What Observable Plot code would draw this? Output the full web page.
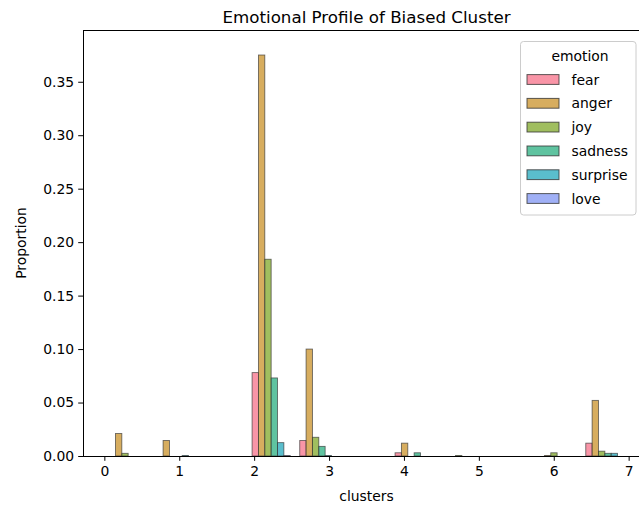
<!DOCTYPE html>
<html><head><meta charset="utf-8">
<script src="https://cdn.jsdelivr.net/npm/d3@7"></script>
<script src="https://cdn.jsdelivr.net/npm/@observablehq/plot@0.6"></script>
<style>
html,body{margin:0;padding:0;background:#fff;overflow:hidden;}
#chart{position:relative;width:639px;height:505px;overflow:hidden;}
#chart svg{max-width:none !important;}
</style></head><body><div id="chart"></div>
<script>
const emotions = ["fear", "anger", "joy", "sadness", "surprise", "love"];
const colors = ["#f77189", "#ca912a", "#80a82a", "#2aaf80", "#23a8bc", "#8096f3"];
const binStarts = [0, 0.636, 1.273, 1.909, 2.545, 3.182, 3.818, 4.455, 5.091, 5.727, 6.364];
const binWidth = 0.636;
const fear     = [0,      0,      0, 0.078,  0.0145, 0, 0.003, 0,      0, 0,      0.012];
const anger    = [0.021,  0.0145, 0, 0.375,  0.100,  0, 0.012, 0,      0, 0.0005, 0.052];
const joy      = [0.0025, 0,      0, 0.184,  0.0175, 0, 0,     0.0005, 0, 0.003,  0.0045];
const sadness  = [0,      0,      0, 0.073,  0.009,  0, 0.003, 0,      0, 0,      0.0025];
const surprise = [0,      0.0005, 0, 0.0125, 0.0005, 0, 0,     0,      0, 0,      0.0025];
const love     = [0,      0,      0, 0.0005, 0,      0, 0,     0,      0, 0,      0];
const xTicks = [0, 1, 2, 3, 4, 5, 6, 7];
const yTicks = [0, 0.05, 0.10, 0.15, 0.20, 0.25, 0.30, 0.35];
const titleText = "Emotional Profile of Biased Cluster";
const xLabel = "clusters";
const yLabel = "Proportion";
const legendTitle = "emotion";

const series = {fear, anger, joy, sadness, surprise, love};
const shrink = 0.8;
const slot = binWidth * shrink / emotions.length;
const rows = [];
emotions.forEach((e, k) => {
  series[e].forEach((v, i) => {
    const x1 = binStarts[i] + binWidth * (1 - shrink) / 2 + k * slot;
    rows.push({emotion: e, value: v, x1, x2: x1 + slot});
  });
});

const W = 650, H = 505, ML = 83, MR = 0, MT = 30, MB = 49;
const font = "'DejaVu Sans', sans-serif";

const plot = Plot.plot({
  width: W, height: H,
  marginLeft: ML, marginRight: MR, marginTop: MT, marginBottom: MB,
  style: {fontFamily: font, fontSize: "13.9px", color: "#000", background: "#fff", overflow: "visible", maxWidth: "none"},
  x: {domain: [-0.285, 7.285], ticks: xTicks, tickFormat: d3.format("d"), label: null, tickSize: 4.8, tickPadding: 4.5},
  y: {domain: [0, 0.3984], ticks: yTicks, tickFormat: d3.format(".2f"), label: null, tickSize: 4.8, tickPadding: 4.5},
  color: {domain: emotions, range: colors},
  marks: [
    Plot.rectY(rows, {x1: "x1", x2: "x2", y1: 0, y2: "value", fill: "emotion", fillOpacity: 0.75,
      stroke: "#333", strokeOpacity: 0.7, strokeWidth: 0.9}),
    Plot.frame({stroke: "#000", strokeWidth: 1})
  ]
});
plot.setAttribute("width", W);
plot.style.width = W + "px";

const svg = d3.select(plot);
const cx = (ML + W - MR) / 2;
svg.append("text").attr("x", cx).attr("y", 17).attr("text-anchor", "middle").attr("dominant-baseline", "central")
  .style("font-size", "16.7px").attr("fill", "#000").text(titleText);
svg.append("text").attr("x", cx).attr("y", 496).attr("text-anchor", "middle").attr("dominant-baseline", "central")
  .style("font-size", "13.9px").attr("fill", "#000").text(xLabel);
svg.append("text").attr("transform", `translate(21,${(MT + H - MB) / 2}) rotate(-90)`).attr("text-anchor", "middle")
  .attr("dominant-baseline", "central").style("font-size", "13.9px").attr("fill", "#000").text(yLabel);

// legend
const lg = svg.append("g");
lg.append("rect").attr("x", 520.5).attr("y", 41.5).attr("width", 115.5).attr("height", 173.5).attr("rx", 3)
  .attr("fill", "#fff").attr("fill-opacity", 0.8).attr("stroke", "#cccccc");
lg.append("text").attr("x", 580).attr("y", 55.5).attr("text-anchor", "middle").attr("dominant-baseline", "central")
  .style("font-size", "13.9px").attr("fill", "#000").text(legendTitle);
emotions.forEach((e, k) => {
  const yc = 79.5 + k * 23.8;
  lg.append("rect").attr("x", 527).attr("y", yc - 4.9).attr("width", 32).attr("height", 9.8)
    .attr("fill", colors[k]).attr("fill-opacity", 0.75).attr("stroke", "#333").attr("stroke-opacity", 0.8);
  lg.append("text").attr("x", 571.5).attr("y", yc).attr("text-anchor", "start").attr("dominant-baseline", "central")
    .style("font-size", "13.9px").attr("fill", "#000").text(e);
});

document.getElementById("chart").appendChild(plot);
</script></body></html>
